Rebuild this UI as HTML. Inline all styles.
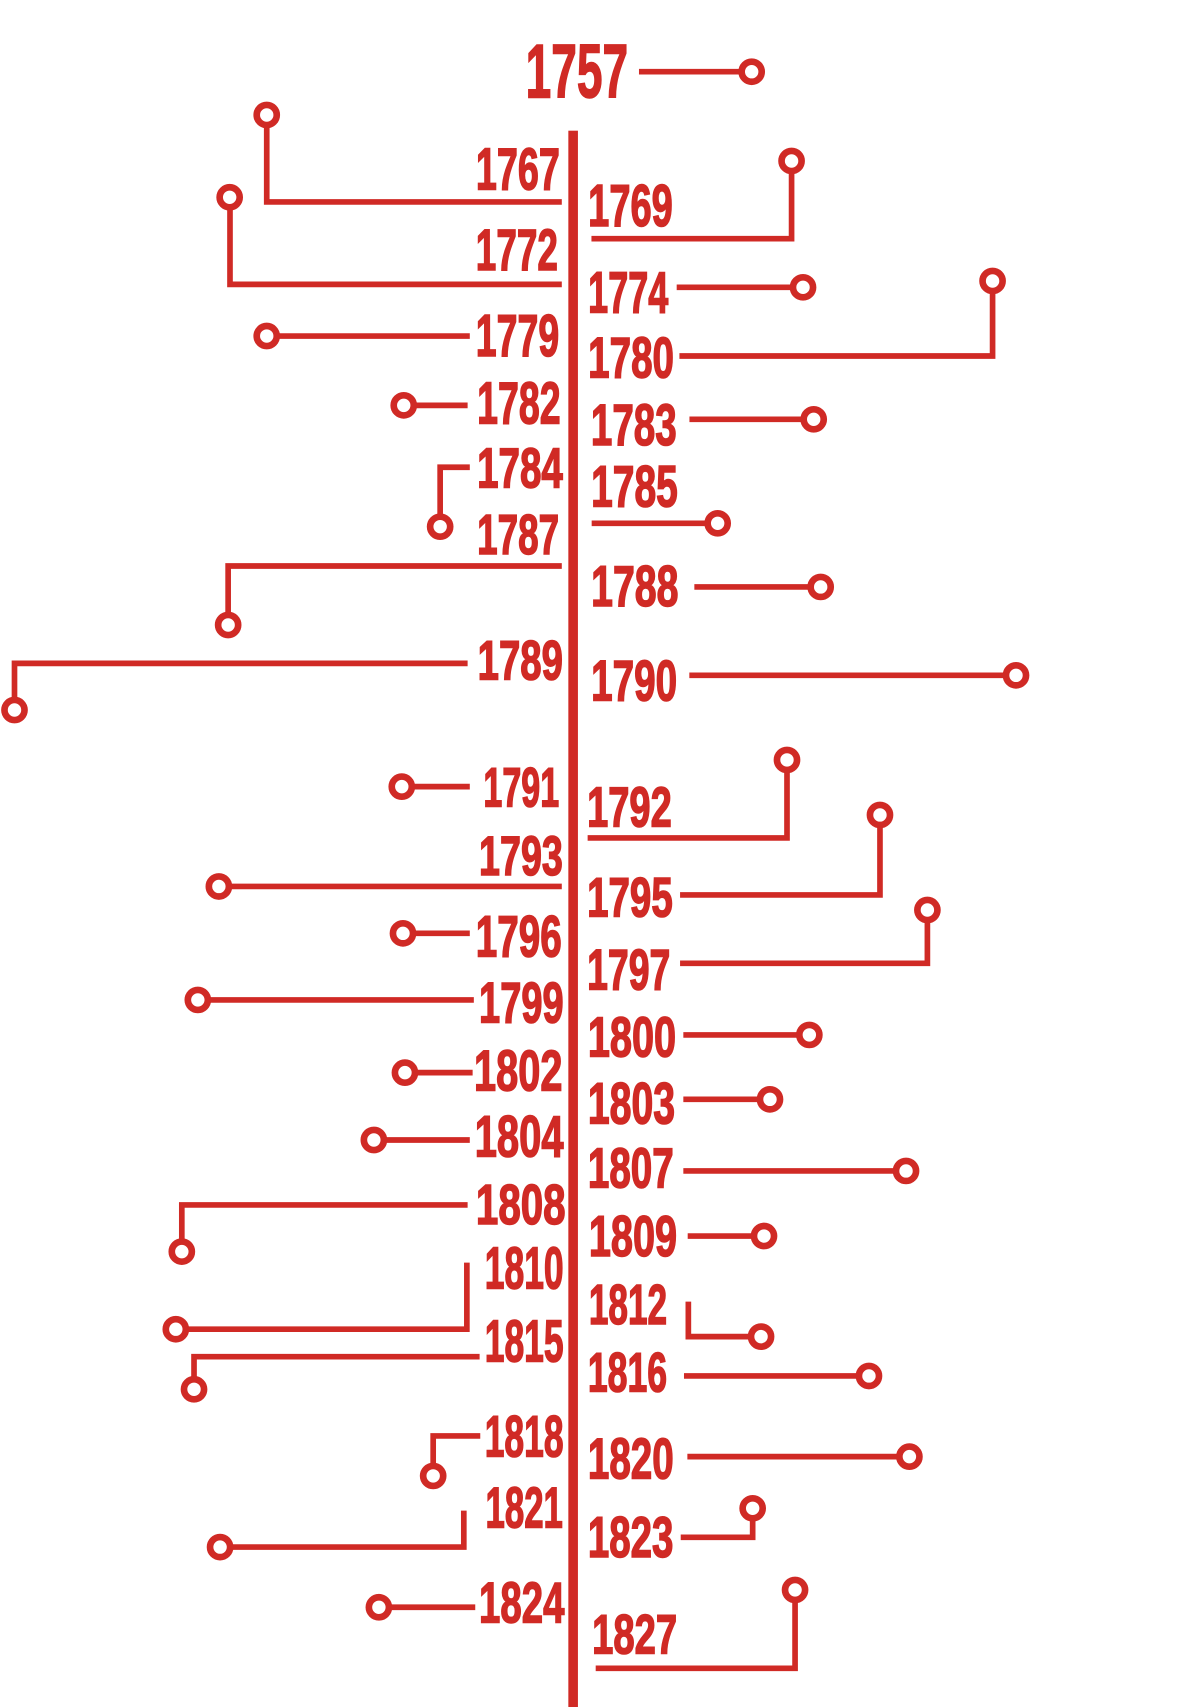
<!DOCTYPE html>
<html>
<head>
<meta charset="utf-8">
<style>
html,body{margin:0;padding:0;background:#fff;}
body{width:1189px;height:1707px;overflow:hidden;}
svg{display:block;}
text{font-family:"Liberation Sans Narrow","Liberation Sans",sans-serif;font-weight:bold;fill:#d02a25;stroke:#d02a25;stroke-width:1.4;}
.c{fill:none;stroke:#d02a25;stroke-width:5.2;stroke-linecap:butt;stroke-linejoin:miter;}
.o{fill:#fff;stroke:#d02a25;stroke-width:6.1;}
</style>
</head>
<body>
<svg width="1189" height="1707" viewBox="0 0 1090.8 1566.1" preserveAspectRatio="none" xmlns="http://www.w3.org/2000/svg">
<rect x="0" y="0" width="1090.8" height="1566.1" fill="#fff"/>
<!-- center spine -->
<rect x="521.4" y="119.9" width="8.8" height="1447" fill="#d02a25"/>

<!-- connectors -->
<path class="c" d="M586.2 65.8 H689.6"/>
<path class="c" d="M515.4 185.3 H244.7 V105.5"/>
<path class="c" d="M515.4 260.9 H211 V181"/>
<path class="c" d="M542.6 219 H726.2 V147.7"/>
<path class="c" d="M620.8 263.6 H736.7"/>
<path class="c" d="M431 308.3 H244.7"/>
<path class="c" d="M623.3 326.6 H910.6 V257.8"/>
<path class="c" d="M429 371.9 H370.4"/>
<path class="c" d="M632.5 384.7 H746.5"/>
<path class="c" d="M431 428.7 H403.8 V483.2"/>
<path class="c" d="M542.8 480.1 H658.4"/>
<path class="c" d="M515.4 519.3 H209.3 V573.4"/>
<path class="c" d="M637 538.5 H752.9"/>
<path class="c" d="M429 608.6 H13.3 V651.4"/>
<path class="c" d="M632.4 619.6 H932.1"/>
<path class="c" d="M431 721.7 H368.6"/>
<path class="c" d="M539.1 768.8 H722 V697.2"/>
<path class="c" d="M515.4 813.3 H200.8"/>
<path class="c" d="M623.9 821.1 H807.3 V747.7"/>
<path class="c" d="M431 856.3 H369.7"/>
<path class="c" d="M623.9 883.8 H850.8 V834.9"/>
<path class="c" d="M434.7 917.4 H181.5"/>
<path class="c" d="M626.9 949.5 H742.5"/>
<path class="c" d="M433.6 984.1 H371.5"/>
<path class="c" d="M626.9 1008.6 H706.4"/>
<path class="c" d="M431 1045.9 H343"/>
<path class="c" d="M626.9 1074.3 H831.2"/>
<path class="c" d="M429 1105.5 H166.8 V1148.3"/>
<path class="c" d="M630.9 1134 H700.9"/>
<path class="c" d="M428.3 1158.4 V1219.5 H161.3"/>
<path class="c" d="M631.5 1194.2 V1226.3 H698.2"/>
<path class="c" d="M440 1244.7 H178 V1274.6"/>
<path class="c" d="M627.5 1262.4 H797.2"/>
<path class="c" d="M440.6 1317.4 H397.4 V1354.1"/>
<path class="c" d="M630.6 1336.4 H834.3"/>
<path class="c" d="M425.5 1385.9 V1419.4 H201.9"/>
<path class="c" d="M624.5 1410.4 H690.5 V1383.8"/>
<path class="c" d="M436 1474.6 H347.6"/>
<path class="c" d="M546.5 1530.6 H729.4 V1458.7"/>

<!-- end circles -->
<circle class="o" cx="689.6" cy="65.8" r="9.2"/>
<circle class="o" cx="244.7" cy="105.5" r="9.2"/>
<circle class="o" cx="210.7" cy="181" r="9.2"/>
<circle class="o" cx="726.2" cy="147.7" r="9.2"/>
<circle class="o" cx="736.7" cy="263.6" r="9.2"/>
<circle class="o" cx="244.7" cy="308.3" r="9.2"/>
<circle class="o" cx="910.6" cy="257.8" r="9.2"/>
<circle class="o" cx="370.4" cy="371.9" r="9.2"/>
<circle class="o" cx="746.5" cy="384.7" r="9.2"/>
<circle class="o" cx="403.8" cy="483.2" r="9.2"/>
<circle class="o" cx="658.4" cy="480.1" r="9.2"/>
<circle class="o" cx="209.3" cy="573.4" r="9.2"/>
<circle class="o" cx="752.9" cy="538.5" r="9.2"/>
<circle class="o" cx="13.3" cy="651.4" r="9.2"/>
<circle class="o" cx="932.1" cy="619.6" r="9.2"/>
<circle class="o" cx="368.6" cy="721.7" r="9.2"/>
<circle class="o" cx="722" cy="697.2" r="9.2"/>
<circle class="o" cx="200.8" cy="813.3" r="9.2"/>
<circle class="o" cx="807.3" cy="747.7" r="9.2"/>
<circle class="o" cx="369.7" cy="856.3" r="9.2"/>
<circle class="o" cx="850.8" cy="834.9" r="9.2"/>
<circle class="o" cx="181.5" cy="917.4" r="9.2"/>
<circle class="o" cx="742.5" cy="949.5" r="9.2"/>
<circle class="o" cx="371.5" cy="984.1" r="9.2"/>
<circle class="o" cx="706.4" cy="1008.6" r="9.2"/>
<circle class="o" cx="343" cy="1045.9" r="9.2"/>
<circle class="o" cx="831.2" cy="1074.3" r="9.2"/>
<circle class="o" cx="166.8" cy="1148.3" r="9.2"/>
<circle class="o" cx="700.9" cy="1134" r="9.2"/>
<circle class="o" cx="161.3" cy="1219.5" r="9.2"/>
<circle class="o" cx="698.2" cy="1226.3" r="9.2"/>
<circle class="o" cx="178" cy="1274.6" r="9.2"/>
<circle class="o" cx="797.2" cy="1262.4" r="9.2"/>
<circle class="o" cx="397.4" cy="1354.1" r="9.2"/>
<circle class="o" cx="834.3" cy="1336.4" r="9.2"/>
<circle class="o" cx="201.9" cy="1419.4" r="9.2"/>
<circle class="o" cx="690.5" cy="1383.8" r="9.2"/>
<circle class="o" cx="347.6" cy="1474.6" r="9.2"/>
<circle class="o" cx="729.4" cy="1458.7" r="9.2"/>

<!-- title year -->
<text x="482.2" y="89.6" font-size="69.6" textLength="94" lengthAdjust="spacingAndGlyphs">1757</text>

<!-- left labels -->
<text x="436.6" y="173.7" font-size="54.6" textLength="77" lengthAdjust="spacingAndGlyphs">1767</text>
<text x="436.5" y="247.7" font-size="53.4" textLength="75.3" lengthAdjust="spacingAndGlyphs">1772</text>
<text x="436.5" y="326.6" font-size="54.6" textLength="76.5" lengthAdjust="spacingAndGlyphs">1779</text>
<text x="437.7" y="388.4" font-size="54.7" textLength="76.6" lengthAdjust="spacingAndGlyphs">1782</text>
<text x="437.7" y="447.1" font-size="52.1" textLength="78.7" lengthAdjust="spacingAndGlyphs">1784</text>
<text x="437.7" y="508.3" font-size="52.1" textLength="75.2" lengthAdjust="spacingAndGlyphs">1787</text>
<text x="438.2" y="623.2" font-size="51.3" textLength="78.2" lengthAdjust="spacingAndGlyphs">1789</text>
<text x="443.5" y="740" font-size="51.1" textLength="69.5" lengthAdjust="spacingAndGlyphs">1791</text>
<text x="439.5" y="802.7" font-size="51.3" textLength="76.9" lengthAdjust="spacingAndGlyphs">1793</text>
<text x="436.5" y="877.7" font-size="53.5" textLength="78.9" lengthAdjust="spacingAndGlyphs">1796</text>
<text x="439.5" y="938.2" font-size="52.5" textLength="77.6" lengthAdjust="spacingAndGlyphs">1799</text>
<text x="434.9" y="1000.6" font-size="52.9" textLength="81.1" lengthAdjust="spacingAndGlyphs">1802</text>
<text x="435.5" y="1061.2" font-size="53.4" textLength="81.5" lengthAdjust="spacingAndGlyphs">1804</text>
<text x="436.6" y="1123" font-size="52.2" textLength="82.3" lengthAdjust="spacingAndGlyphs">1808</text>
<text x="444.7" y="1182" font-size="54.3" textLength="72.4" lengthAdjust="spacingAndGlyphs">1810</text>
<text x="444.7" y="1249.2" font-size="54.2" textLength="72.4" lengthAdjust="spacingAndGlyphs">1815</text>
<text x="444.7" y="1336.4" font-size="53.4" textLength="72.3" lengthAdjust="spacingAndGlyphs">1818</text>
<text x="445.4" y="1401.5" font-size="52.5" textLength="71" lengthAdjust="spacingAndGlyphs">1821</text>
<text x="439.5" y="1488.7" font-size="52.7" textLength="78.3" lengthAdjust="spacingAndGlyphs">1824</text>

<!-- right labels -->
<text x="539.6" y="207.3" font-size="54.6" textLength="77.6" lengthAdjust="spacingAndGlyphs">1769</text>
<text x="539.6" y="286.9" font-size="53.9" textLength="73.5" lengthAdjust="spacingAndGlyphs">1774</text>
<text x="539.6" y="346.2" font-size="52.9" textLength="78.7" lengthAdjust="spacingAndGlyphs">1780</text>
<text x="542.1" y="408.3" font-size="53.5" textLength="78.7" lengthAdjust="spacingAndGlyphs">1783</text>
<text x="542.3" y="464.8" font-size="53.4" textLength="79.5" lengthAdjust="spacingAndGlyphs">1785</text>
<text x="542.3" y="556" font-size="52.7" textLength="80.1" lengthAdjust="spacingAndGlyphs">1788</text>
<text x="542.3" y="642.8" font-size="52.9" textLength="78.9" lengthAdjust="spacingAndGlyphs">1790</text>
<text x="538.6" y="758.4" font-size="52.1" textLength="77.7" lengthAdjust="spacingAndGlyphs">1792</text>
<text x="538.6" y="841" font-size="51.3" textLength="78.6" lengthAdjust="spacingAndGlyphs">1795</text>
<text x="538.6" y="907.6" font-size="52.5" textLength="76.4" lengthAdjust="spacingAndGlyphs">1797</text>
<text x="539.3" y="969.4" font-size="52.1" textLength="81" lengthAdjust="spacingAndGlyphs">1800</text>
<text x="539.3" y="1030.6" font-size="53.4" textLength="80" lengthAdjust="spacingAndGlyphs">1803</text>
<text x="539.3" y="1089.3" font-size="52.1" textLength="78.8" lengthAdjust="spacingAndGlyphs">1807</text>
<text x="540.2" y="1152.3" font-size="52.5" textLength="81" lengthAdjust="spacingAndGlyphs">1809</text>
<text x="540.2" y="1214.7" font-size="52.1" textLength="71.8" lengthAdjust="spacingAndGlyphs">1812</text>
<text x="539.3" y="1276.8" font-size="51.4" textLength="72.7" lengthAdjust="spacingAndGlyphs">1816</text>
<text x="539.3" y="1356.3" font-size="52.7" textLength="78.8" lengthAdjust="spacingAndGlyphs">1820</text>
<text x="539.3" y="1428.7" font-size="52.9" textLength="78.5" lengthAdjust="spacingAndGlyphs">1823</text>
<text x="543.2" y="1516.8" font-size="51.3" textLength="78" lengthAdjust="spacingAndGlyphs">1827</text>
</svg>
</body>
</html>
